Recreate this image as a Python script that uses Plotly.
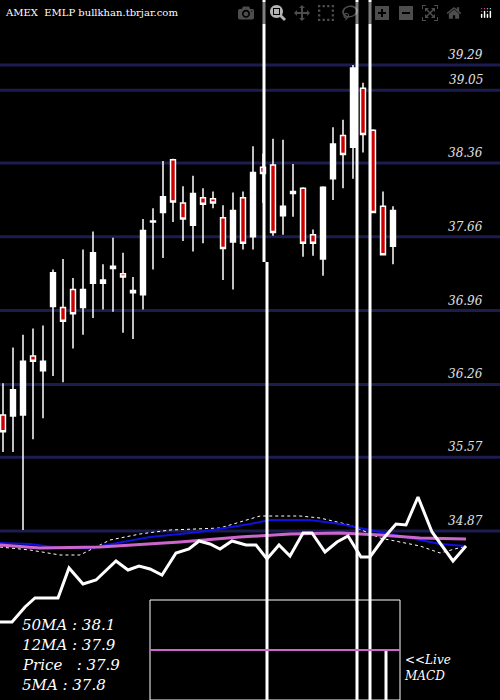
import plotly.graph_objects as go

# candle OHLC
opens = [35.97, 35.96, 35.97, 36.53, 36.39, 37.00, 36.99, 37.16, 36.99, 37.22,
         37.22, 37.38, 37.31, 37.15, 37.11, 37.81, 37.89, 38.39, 37.98, 37.77,
         38.03, 38.02, 37.84, 37.61, 38.03, 37.66, 38.32, 38.34, 37.86, 38.09,
         38.12, 37.68, 37.45, 38.21, 38.62, 38.51, 39.07, 38.67, 37.95, 37.57]
highs = [36.27, 36.61, 36.73, 36.79, 36.82, 37.35, 37.45, 37.27, 37.54, 37.71,
         37.40, 37.65, 37.51, 37.28, 37.83, 37.93, 38.38, 38.40, 38.14, 38.24,
         38.12, 38.09, 37.96, 38.08, 38.09, 38.52, 38.45, 38.59, 38.58, 38.35,
         38.13, 37.73, 38.14, 38.70, 38.77, 39.29, 39.12, 38.68, 38.09, 37.95]
lows = [35.62, 35.62, 34.88, 35.74, 35.94, 36.34, 36.28, 36.60, 36.73, 36.89,
        36.97, 36.95, 36.75, 36.69, 36.97, 37.35, 37.46, 37.80, 37.62, 37.52,
        37.60, 37.93, 37.25, 37.16, 37.54, 37.54, 37.98, 37.67, 37.68, 37.85,
        37.47, 37.48, 37.29, 38.01, 38.12, 38.21, 38.46, 37.89, 37.49, 37.40]
closes = [35.81, 36.21, 36.48, 36.48, 36.48, 37.32, 36.86, 36.93, 37.16, 37.51,
          37.25, 37.36, 37.28, 37.13, 37.72, 37.80, 38.04, 37.99, 37.83, 38.07,
          37.97, 37.98, 37.55, 37.91, 37.60, 38.27, 38.26, 37.70, 37.95, 38.07,
          37.60, 37.60, 38.13, 38.54, 38.44, 39.26, 38.63, 37.89, 37.49, 37.91]
levels = [39.29, 39.05, 38.36, 37.66, 36.96, 36.26, 35.57, 34.87]

# lower indicator panel (drawn on a 0..500 / 0..700 panel scale)
price_x = [0, 12, 25, 35, 58, 69, 83, 96, 116, 128, 139, 150, 162, 176, 189, 199, 210,
           220, 232, 246, 256, 267, 279, 290, 303, 312, 325, 337, 348, 361, 370, 383,
           396, 406, 418, 432, 453, 466]
price_y = [622, 622, 607, 598, 598, 568, 584, 580, 561, 570, 566, 569, 575, 553, 549,
           541, 544, 549, 541, 545, 545, 559, 545, 556, 533, 533, 552, 542, 536, 557,
           557, 539, 524, 525, 497, 532, 561, 546]
blue_x = [0, 30, 60, 90, 150, 200, 250, 270, 310, 340, 370, 400, 440, 466]
blue_y = [543, 544, 548, 548, 537, 532, 524, 520, 520, 524, 530, 536, 544, 546]
pink_x = [0, 40, 100, 180, 240, 290, 340, 380, 420, 466]
pink_y = [545, 548, 547, 542, 537, 534, 533, 535, 538, 539]
dot_x = [0, 30, 60, 80, 110, 140, 170, 220, 260, 300, 320, 350, 380, 420, 440, 466]
dot_y = [547, 550, 555, 555, 540, 534, 530, 528, 516, 516, 518, 525, 538, 546, 553, 546]

idx = list(range(len(opens)))
fig = go.Figure()

for lv in levels:
    fig.add_hline(y=lv, line_color="#1c1c50", line_width=3, layer="below")
    fig.add_annotation(x=485, y=lv, xref="x2", yref="y", text="<i>" + str(lv) + "</i>",
                       showarrow=False, xanchor="right", yanchor="bottom", yshift=1,
                       font=dict(family="DejaVu Serif", size=12, color="#e0e0e0"))

fig.add_trace(go.Candlestick(x=idx, open=opens, high=highs, low=lows, close=closes,
                             increasing=dict(fillcolor="white", line=dict(color="white", width=1.5)),
                             decreasing=dict(fillcolor="#cc0000", line=dict(color="white", width=1.5)),
                             whiskerwidth=0))

fig.add_trace(go.Scatter(x=dot_x, y=dot_y, xaxis="x2", yaxis="y2", mode="lines",
                         line=dict(color="white", width=1, dash="dot")))
fig.add_trace(go.Scatter(x=blue_x, y=blue_y, xaxis="x2", yaxis="y2", mode="lines",
                         line=dict(color="#1010e0", width=2)))
fig.add_trace(go.Scatter(x=pink_x, y=pink_y, xaxis="x2", yaxis="y2", mode="lines",
                         line=dict(color="#cc66cc", width=3)))
fig.add_trace(go.Scatter(x=price_x, y=price_y, xaxis="x2", yaxis="y2", mode="lines",
                         line=dict(color="white", width=3)))

# tall white vertical strokes
for vx, y0, y1 in [(264, 0, 262), (267, 262, 700), (357, 0, 700), (370, 0, 700), (386, 650, 700)]:
    fig.add_trace(go.Scatter(x=[vx, vx], y=[y0, y1], xaxis="x2", yaxis="y2", mode="lines",
                             line=dict(color="white", width=3)))

# MACD box
fig.add_trace(go.Scatter(x=[150, 400, 400, 150, 150], y=[700, 700, 600, 600, 700],
                         xaxis="x2", yaxis="y2", mode="lines", line=dict(color="white", width=1)))
fig.add_trace(go.Scatter(x=[150, 400], y=[650, 650], xaxis="x2", yaxis="y2", mode="lines",
                         line=dict(color="#cc66cc", width=2)))

serif = dict(family="DejaVu Serif", color="white")
fig.add_annotation(x=3, y=12, xref="x2", yref="y2", text="AMEX  EMLP bullkhan.tbrjar.com",
                   showarrow=False, xanchor="left", font=dict(size=10, **serif))
for i, t in enumerate(["50MA : 38.1", "12MA : 37.9", "Price   : 37.9", "5MA : 37.8"]):
    fig.add_annotation(x=20, y=625 + 20 * i, xref="x2", yref="y2", text="<i>" + t + "</i>",
                       showarrow=False, xanchor="left", font=dict(size=15, **serif))
fig.add_annotation(x=402, y=668, xref="x2", yref="y2", text="<i><<Live<br>MACD</i>",
                   showarrow=False, xanchor="left", align="left", font=dict(size=12, **serif))

fig.update_layout(
    width=500, height=700, margin=dict(l=0, r=0, t=0, b=0),
    paper_bgcolor="black", plot_bgcolor="black", showlegend=False,
    xaxis=dict(range=[-0.3, 49.7], visible=False, rangeslider=dict(visible=False)),
    yaxis=dict(range=[33.267, 39.906], visible=False),
    xaxis2=dict(range=[0, 500], visible=False, overlaying="x"),
    yaxis2=dict(range=[700, 0], visible=False, overlaying="y"),
)
fig.write_html("out.html")

# drop the browser's default page margin so the chart fills the window
with open("out.html") as f:
    page = f.read()
page = page.replace("<body>", '<body style="margin:0;background:black;overflow:hidden">', 1)
with open("out.html", "w") as f:
    f.write(page)
